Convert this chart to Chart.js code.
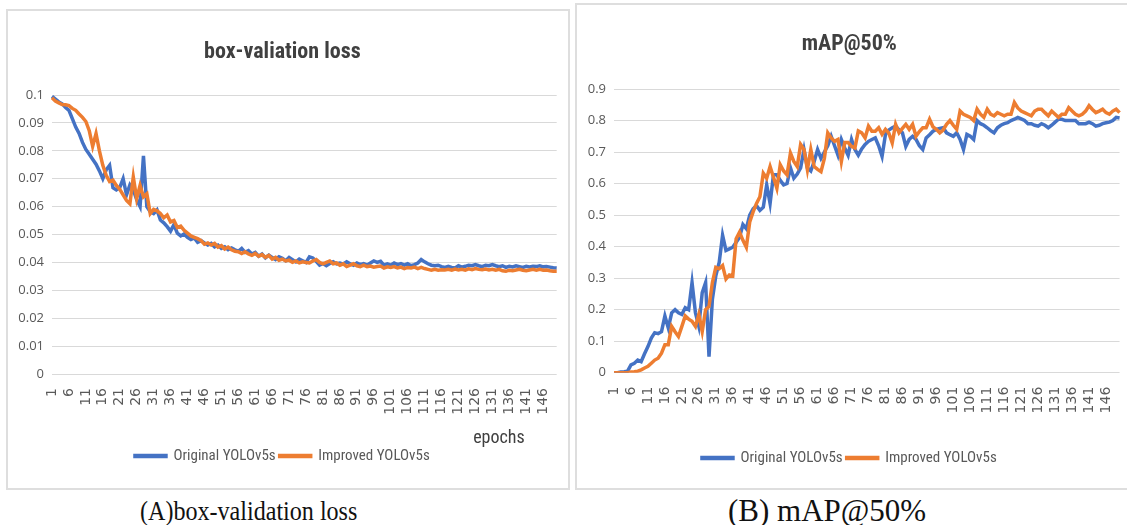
<!DOCTYPE html>
<html><head><meta charset="utf-8">
<script src="https://cdn.jsdelivr.net/npm/chart.js@4.4.0/dist/chart.umd.min.js"></script>
<style>
html,body{margin:0;padding:0;background:#fff;width:1127px;height:525px;overflow:hidden;position:relative}
.box{position:absolute;border:2px solid #dedede;box-sizing:content-box;overflow:hidden}
.box canvas{display:block}
.cap{position:absolute;font-family:'Liberation Serif','Times New Roman',serif;color:#111;white-space:nowrap;line-height:1;transform-origin:left top}
</style></head><body>
<div class="box" style="left:6px;top:9px;width:560px;height:477px"><canvas id="cA" width="560" height="477"></canvas></div>
<div class="box" style="left:575px;top:3px;width:552px;height:483px"><canvas id="cB" width="552" height="483"></canvas></div>
<div class="cap" style="left:140px;top:497px;font-size:28px;transform:scaleX(0.86)">(A)box-validation loss</div>
<div class="cap" style="left:728px;top:495px;font-size:31px">(B) mAP@50%</div>
<script>
// ---------- data ----------
const epochs = Array.from({length:150}, (_, i) => String(i + 1));
const seriesNames = ['Original YOLOv5s', 'Improved YOLOv5s'];
const lossTitle = 'box-valiation loss';
const mapTitle = 'mAP@50%';

const lossOriginal = [
0.0995,0.0985,0.0975,0.0968,0.0955,0.0945,0.0915,0.0885,0.0862,0.0830,
0.0805,0.0788,0.0770,0.0752,0.0728,0.0700,0.0732,0.0748,0.0668,0.0660,
0.0668,0.0700,0.0642,0.0678,0.0660,0.0625,0.0600,0.0782,0.0600,0.0582,
0.0575,0.0588,0.0552,0.0542,0.0528,0.0512,0.0535,0.0505,0.0495,0.0502,
0.0490,0.0482,0.0488,0.0472,0.0478,0.0470,0.0462,0.0468,0.0456,0.0462,
0.0450,0.0456,0.0446,0.0452,0.0445,0.0440,0.0450,0.0436,0.0442,0.0430,
0.0436,0.0422,0.0430,0.0416,0.0426,0.0418,0.0410,0.0420,0.0415,0.0406,
0.0418,0.0410,0.0402,0.0412,0.0406,0.0400,0.0420,0.0416,0.0404,0.0390,
0.0396,0.0388,0.0396,0.0402,0.0395,0.0398,0.0394,0.0402,0.0395,0.0390,
0.0398,0.0392,0.0396,0.0390,0.0398,0.0405,0.0400,0.0404,0.0390,0.0395,
0.0390,0.0398,0.0392,0.0396,0.0390,0.0395,0.0388,0.0392,0.0398,0.0410,
0.0402,0.0395,0.0390,0.0388,0.0390,0.0385,0.0382,0.0386,0.0382,0.0380,
0.0388,0.0383,0.0386,0.0390,0.0388,0.0392,0.0388,0.0385,0.0390,0.0388,
0.0392,0.0388,0.0385,0.0388,0.0382,0.0386,0.0384,0.0388,0.0385,0.0382,
0.0386,0.0384,0.0386,0.0385,0.0388,0.0384,0.0385,0.0383,0.0381,0.0380];

const lossImproved = [
0.0990,0.0978,0.0972,0.0966,0.0965,0.0962,0.0952,0.0945,0.0932,0.0920,
0.0905,0.0872,0.0816,0.0862,0.0800,0.0748,0.0712,0.0690,0.0695,0.0676,
0.0662,0.0642,0.0622,0.0610,0.0706,0.0628,0.0676,0.0635,0.0646,0.0575,
0.0590,0.0585,0.0575,0.0560,0.0570,0.0545,0.0550,0.0525,0.0530,0.0515,
0.0505,0.0495,0.0490,0.0485,0.0478,0.0465,0.0470,0.0462,0.0468,0.0455,
0.0460,0.0448,0.0455,0.0445,0.0440,0.0438,0.0432,0.0438,0.0430,0.0425,
0.0432,0.0422,0.0428,0.0418,0.0425,0.0412,0.0418,0.0408,0.0412,0.0405,
0.0408,0.0400,0.0405,0.0398,0.0402,0.0400,0.0398,0.0405,0.0410,0.0400,
0.0395,0.0400,0.0405,0.0395,0.0398,0.0390,0.0395,0.0385,0.0390,0.0395,
0.0388,0.0385,0.0390,0.0385,0.0387,0.0383,0.0385,0.0387,0.0380,0.0384,
0.0382,0.0385,0.0380,0.0383,0.0378,0.0382,0.0380,0.0383,0.0378,0.0382,
0.0378,0.0375,0.0372,0.0375,0.0372,0.0374,0.0373,0.0375,0.0372,0.0376,
0.0373,0.0375,0.0372,0.0377,0.0374,0.0378,0.0375,0.0374,0.0376,0.0373,
0.0375,0.0372,0.0375,0.0370,0.0368,0.0372,0.0370,0.0373,0.0375,0.0372,
0.0370,0.0373,0.0375,0.0372,0.0375,0.0372,0.0373,0.0370,0.0368,0.0368];

const mapOriginal = [
0.000,0.000,0.002,0.003,0.005,0.025,0.030,0.040,0.035,0.060,
0.083,0.110,0.127,0.124,0.130,0.180,0.142,0.190,0.200,0.190,
0.185,0.206,0.200,0.286,0.190,0.147,0.254,0.286,0.051,0.233,
0.307,0.350,0.436,0.388,0.393,0.398,0.414,0.430,0.470,0.457,
0.500,0.520,0.530,0.515,0.525,0.596,0.537,0.628,0.628,0.610,
0.596,0.600,0.650,0.617,0.630,0.650,0.708,0.650,0.640,0.670,
0.708,0.680,0.700,0.720,0.750,0.720,0.690,0.740,0.713,0.690,
0.740,0.708,0.690,0.710,0.724,0.734,0.740,0.745,0.720,0.686,
0.756,0.770,0.777,0.782,0.770,0.761,0.718,0.740,0.750,0.740,
0.720,0.708,0.745,0.755,0.766,0.772,0.775,0.777,0.761,0.755,
0.750,0.761,0.740,0.708,0.756,0.750,0.740,0.800,0.790,0.785,
0.777,0.768,0.761,0.777,0.785,0.790,0.793,0.800,0.804,0.810,
0.805,0.800,0.790,0.790,0.785,0.782,0.790,0.785,0.777,0.785,
0.795,0.804,0.804,0.800,0.800,0.800,0.800,0.790,0.790,0.790,
0.795,0.790,0.782,0.785,0.790,0.793,0.795,0.800,0.810,0.808];

const mapImproved = [
0.000,0.000,0.000,0.000,0.000,0.002,0.003,0.005,0.009,0.015,
0.020,0.030,0.040,0.046,0.062,0.089,0.089,0.147,0.130,0.115,
0.147,0.180,0.170,0.163,0.147,0.185,0.131,0.200,0.210,0.286,
0.334,0.330,0.340,0.297,0.310,0.307,0.425,0.446,0.420,0.398,
0.478,0.510,0.537,0.558,0.633,0.617,0.654,0.620,0.585,0.660,
0.640,0.628,0.697,0.670,0.654,0.724,0.708,0.644,0.708,0.654,
0.645,0.638,0.680,0.761,0.745,0.734,0.740,0.670,0.730,0.730,
0.718,0.713,0.767,0.761,0.745,0.782,0.766,0.766,0.777,0.756,
0.772,0.760,0.729,0.788,0.761,0.775,0.788,0.772,0.788,0.750,
0.765,0.777,0.777,0.804,0.780,0.772,0.761,0.770,0.788,0.800,
0.785,0.772,0.830,0.820,0.815,0.810,0.800,0.836,0.820,0.810,
0.836,0.820,0.815,0.825,0.820,0.815,0.820,0.820,0.857,0.840,
0.830,0.825,0.820,0.815,0.830,0.836,0.836,0.825,0.815,0.830,
0.820,0.810,0.820,0.820,0.841,0.830,0.820,0.815,0.820,0.830,
0.847,0.835,0.825,0.830,0.836,0.825,0.820,0.830,0.836,0.825];

// ---------- styling ----------
const BLUE = '#4472C4', ORANGE = '#ED7D31';
const NARROW = "'Liberation Sans Narrow', 'Arial Narrow', 'Roboto Condensed', 'Open Sans', sans-serif";

const epochsLabel = {
  id: 'epochsLabel',
  afterDraw(chart, args, opts) {
    if (!opts.text) return;
    const {ctx, chartArea} = chart;
    ctx.save();
    ctx.font = '18px ' + NARROW;
    ctx.fillStyle = '#404040';
    ctx.textAlign = 'right';
    ctx.textBaseline = 'middle';
    ctx.fillText(opts.text, chartArea.right - 32, chartArea.bottom + 64);
    ctx.restore();
  }
};

function makeChart(id, o) {
  return new Chart(document.getElementById(id), {
    type: 'line',
    data: {
      labels: epochs,
      datasets: [
        {label: seriesNames[0], data: o.a, borderColor: BLUE, backgroundColor: BLUE, borderWidth: 3.5, pointRadius: 0, tension: 0, order: 2},
        {label: seriesNames[1], data: o.b, borderColor: ORANGE, backgroundColor: ORANGE, borderWidth: 3.5, pointRadius: 0, tension: 0, order: 1}
      ]
    },
    plugins: [epochsLabel],
    options: {
      responsive: false, animation: false, devicePixelRatio: 1,
      layout: {padding: {left: 0, right: o.padRight, top: 0, bottom: o.padBottom}},
      plugins: {
        tooltip: {enabled: false},
        epochsLabel: {text: o.epochs},
        title: {display: true, text: o.title, color: '#404040',
          font: {family: NARROW, size: 22, weight: 'bold', lineHeight: 1.2},
          padding: {top: o.titleTop, bottom: o.titleBottom}},
        legend: {position: 'bottom', align: 'center',
          labels: {boxWidth: 31, boxHeight: 1, padding: 4, color: '#595959',
            font: {family: NARROW, size: 15},
            sort: (x, y) => x.datasetIndex - y.datasetIndex}}
      },
      scales: {
        x: {type: 'category', offset: false,
          grid: {display: false}, border: {display: false},
          ticks: {autoSkip: false, minRotation: 90, maxRotation: 90, padding: 6,
            color: '#595959', font: {family: "'DejaVu Sans', sans-serif", size: 14},
            callback: (v, i) => (i % 5 === 0 ? epochs[i] : null)},
          afterFit: s => { s.height = o.xHeight; }},
        y: {min: 0, max: o.max,
          grid: {color: '#d9d9d9', lineWidth: 1, drawTicks: false}, border: {display: false},
          ticks: {stepSize: o.step, padding: 8, color: '#595959',
            font: {family: "'Open Sans', sans-serif", size: 13},
            callback: v => String(Number(v.toFixed(2)))},
          afterFit: s => { s.width = o.yWidth; }}
      }
    }
  });
}

makeChart('cA', {a: lossOriginal, b: lossImproved, title: lossTitle, max: 0.1, step: 0.01,
  titleTop: 27.8, titleBottom: 29.8, xHeight: 70.5, yWidth: 44, padRight: 11.3, padBottom: 14.5, epochs: 'epochs'});
makeChart('cB', {a: mapOriginal, b: mapImproved, title: mapTitle, max: 0.9, step: 0.1,
  titleTop: 25.8, titleBottom: 31.8, xHeight: 73.8, yWidth: 37, padRight: 7.3, padBottom: 12.5, epochs: ''});
</script>
</body></html>
